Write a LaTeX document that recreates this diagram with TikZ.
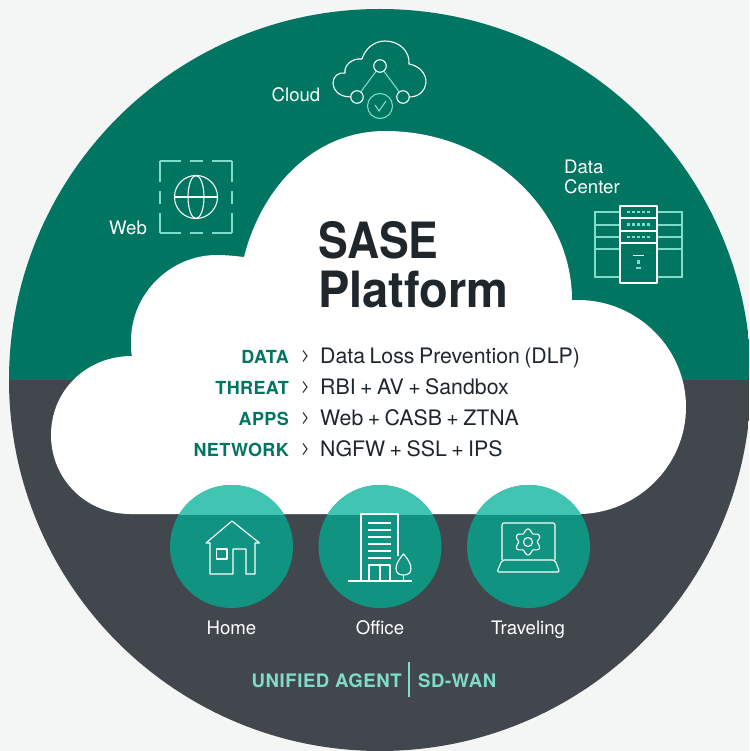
\documentclass[tikz,border=0pt]{standalone}
\usepackage{graphicx}
\usepackage{fontspec}
\setmainfont{TeX Gyre Heros}
\newfontfamily\valfont[WordSpace=0.75]{TeX Gyre Heros}
\newfontfamily\keyfont[LetterSpace=2,BoldFont={TeX Gyre Heros Bold}]{TeX Gyre Heros}
\newfontfamily\agentfont[LetterSpace=3,BoldFont={TeX Gyre Heros Bold}]{TeX Gyre Heros}
\definecolor{bgc}{HTML}{F4F6F5}
\definecolor{grn}{HTML}{007561}
\definecolor{slate}{HTML}{41474C}
\definecolor{ink}{HTML}{1F262C}
\definecolor{mint}{HTML}{7FDCCB}
\definecolor{tealhi}{HTML}{41C4B2}
\definecolor{teallo}{HTML}{109380}
\tikzset{
  x=1pt,y=-1pt,
  lab/.style={text=white,font=\fontsize{18.6}{22}\selectfont,inner sep=0pt,anchor=base},
  keyw/.style={text=grn,font=\keyfont\fontsize{18}{20}\selectfont\bfseries,anchor=base east,inner sep=0pt},
  val/.style={text=ink,font=\valfont\fontsize{21.3}{24}\selectfont,anchor=base west,inner sep=0pt},
  titl/.style={text=ink,font=\fontsize{50}{54}\selectfont\bfseries,anchor=base west,inner sep=0pt},
  agent/.style={text=mint,font=\agentfont\fontsize{18.6}{20}\selectfont\bfseries,inner sep=0pt},
  chev/.style={draw=ink,line width=1pt},
  ico/.style={draw=white,line width=1.1pt,line join=round},
  icm/.style={draw=mint,line width=1.1pt},
  dashside/.style={icm,dash pattern=on 21pt off 9pt on 13pt off 9pt on 21pt off 100pt},
  nd/.style={circle,draw=white,line width=1.1pt,minimum size=12.5pt,inner sep=0pt},
  ring/.style={circle,fill=#1,minimum size=123pt,inner sep=0pt}
}
\begin{document}
\begin{tikzpicture}
\useasboundingbox (0,0) rectangle (749,751);
\fill[bgc] (0,0) rectangle (749,751);
% disc
\begin{scope}
  \clip (380,380) circle[radius=371];
  \fill[grn] (0,0) rectangle (749,380);
  \fill[slate] (0,380) rectangle (749,751);
\end{scope}
% cloud
\fill[white] (130,514)
  .. controls (86,514) and (51,479) .. (51,435)
  .. controls (51,391) and (86,356) .. (132,356)
  .. controls (131,353) and (131,347) .. (131,341)
  .. controls (131,294) and (170,255) .. (217,255)
  .. controls (226,255) and (235,256) .. (244,257)
  .. controls (262,186) and (315,131) .. (385,131)
  .. controls (490,131) and (572,210) .. (572,300)
  .. controls (576,300) and (577,300) .. (578,300)
  .. controls (637,300) and (686,348) .. (686,407)
  .. controls (686,466) and (637,514) .. (578,514) -- cycle;
% location discs
\node[ring=teallo] (home) at (231.5,546.5) {};
\node[ring=teallo] (office) at (380,546.5) {};
\node[ring=teallo] (trav) at (528.5,546.5) {};
\begin{scope}
  \clip (0,0) rectangle (749,514);
  \fill[tealhi] (231.5,546.5) circle[radius=61.5];
  \fill[tealhi] (380,546.5) circle[radius=61.5];
  \fill[tealhi] (528.5,546.5) circle[radius=61.5];
\end{scope}
% title
\node[titl] (t1) at (318,258.5) {\scalebox{.89}[1]{SASE}};
\node[titl] (t2) at (318,307.5) {\scalebox{.94}[1]{Platform}};
% rows
\node[keyw] (k1) at (289,363.5) {DATA};
\node[keyw] (k2) at (289,394.5) {THREAT};
\node[keyw] (k3) at (289,425.5) {APPS};
\node[keyw] (k4) at (289,456.5) {NETWORK};
\node[val] (v1) at (320,363.5) {Data Loss Prevention (DLP)};
\node[val] (v2) at (320,394.5) {RBI + AV + Sandbox};
\node[val] (v3) at (320,425.5) {Web + CASB + ZTNA};
\node[val] (v4) at (320,456.5) {NGFW + SSL + IPS};
\foreach \yy in {356,387,418,449}
  \draw[chev] (303,\yy-5.5) -- (307,\yy) -- (303,\yy+5.5);
% labels
\node[lab] (lcloud) at (296,102) {Cloud};
\node[lab] (lweb) at (128,234) {Web};
\node[lab,anchor=base west] (ld1) at (564,174) {Data};
\node[lab,anchor=base west] (ld2) at (564,194) {Center};
\node[lab] (lhome) at (231.5,634.5) {Home};
\node[lab] (loff) at (380,634.5) {Office};
\node[lab] (ltrav) at (528,634.5) {Traveling};
\node[agent,anchor=base east] (ua) at (402,687) {UNIFIED AGENT};
\node[agent,anchor=base west] (sd) at (418,687) {SD-WAN};
\draw[draw=mint,line width=1.2pt] (409,662) -- (409,697);
% cloud icon
\draw[ico] (351,97) .. controls (337,97) and (333,88) .. (333,83)
  .. controls (333,76) and (339,72) .. (345,73)
  .. controls (344,65) and (352,58) .. (362,59)
  .. controls (365,49) and (374,41) .. (385,41)
  .. controls (400,41) and (410,52) .. (409,64)
  .. controls (420,66) and (426,74) .. (426,82)
  .. controls (425,92) and (418,97) .. (409,97);
\node[nd] (n1) at (380,66) {};
\node[nd] (n2) at (357,97) {};
\node[nd] (n3) at (403,97) {};
\draw[icm] (n1) -- (n2);
\draw[icm] (n1) -- (n3);
\draw[icm] (380,106) circle[radius=12.5];
\draw[icm] (375,105) -- (379,111) -- (386,101);
% web icon
\draw[dashside] (160,161) -- (232,161);
\draw[dashside] (160,233) -- (232,233);
\draw[dashside] (160,161) -- (160,233);
\draw[dashside] (232,161) -- (232,233);
\draw[ico] (196,197) circle[radius=21.5];
\draw[ico] (196,197) ellipse[x radius=8,y radius=21.5];
\draw[ico] (174.5,197) -- (217.5,197);
% data center icon
\draw[icm] (595,212) rectangle (682,277);
\foreach \yy in {225,237,249} \draw[icm] (595,\yy) -- (682,\yy);
\draw[ico,fill=grn] (620,206) rectangle (657,283);
\foreach \yy in {218,231,243} \draw[ico] (620,\yy) -- (657,\yy);
\foreach \yy in {212,224.5,237}
  \foreach \xx in {628.5,633.5,638.5,643.5,648.5}
    \fill[mint] (\xx-1.3,\yy-1.3) rectangle (\xx+1.3,\yy+1.3);
\draw[ico] (633,255.5) -- (644,255.5);
\fill[mint] (637,260) rectangle (640,264);
\fill[mint] (636,267) rectangle (641,269);
% home icon
\draw[ico] (206,543) -- (232,521) -- (259.5,543) -- (255,543) -- (255,574) -- (246,574) -- (246,549) -- (233,549) -- (233,574) -- (210,574) -- (210,543) -- cycle;
\draw[ico] (216.5,549) rectangle (227,559);
% office icon
\draw[ico] (361,581) -- (361,514) -- (398,514) -- (398,556);
\draw[ico] (348,581) -- (412,581);
\foreach \yy in {523,530,537,544,551,558} \draw[ico] (368,\yy) -- (391,\yy);
\draw[ico] (369,581) -- (369,565) -- (390,565) -- (390,581);
\draw[ico] (380,565) -- (380,581);
\draw[ico] (403.5,554) .. controls (399,559) and (396,564) .. (396,568.5) .. controls (396,573) and (399,575) .. (403.5,575) .. controls (408,575) and (411,573) .. (411,568.5) .. controls (411,564) and (408,559) .. (403.5,554) -- cycle;
\draw[ico] (403.5,575) -- (403.5,581);
% laptop icon
\draw[ico,rounded corners=2pt] (502,560) -- (502,523) -- (555,523) -- (555,560);
\draw[ico,rounded corners=2pt] (502,560) -- (555,560) -- (559.5,572) -- (497,572) -- cycle;
\draw[ico] (528,542) circle[radius=4.5];
\draw[ico] plot[domain=0:360,samples=121,smooth] ({528+(11.2+1.8*cos(6*\x+180))*cos(\x)},{542+(11.2+1.8*cos(6*\x+180))*sin(\x)}) -- cycle;
\end{tikzpicture}
\end{document}
